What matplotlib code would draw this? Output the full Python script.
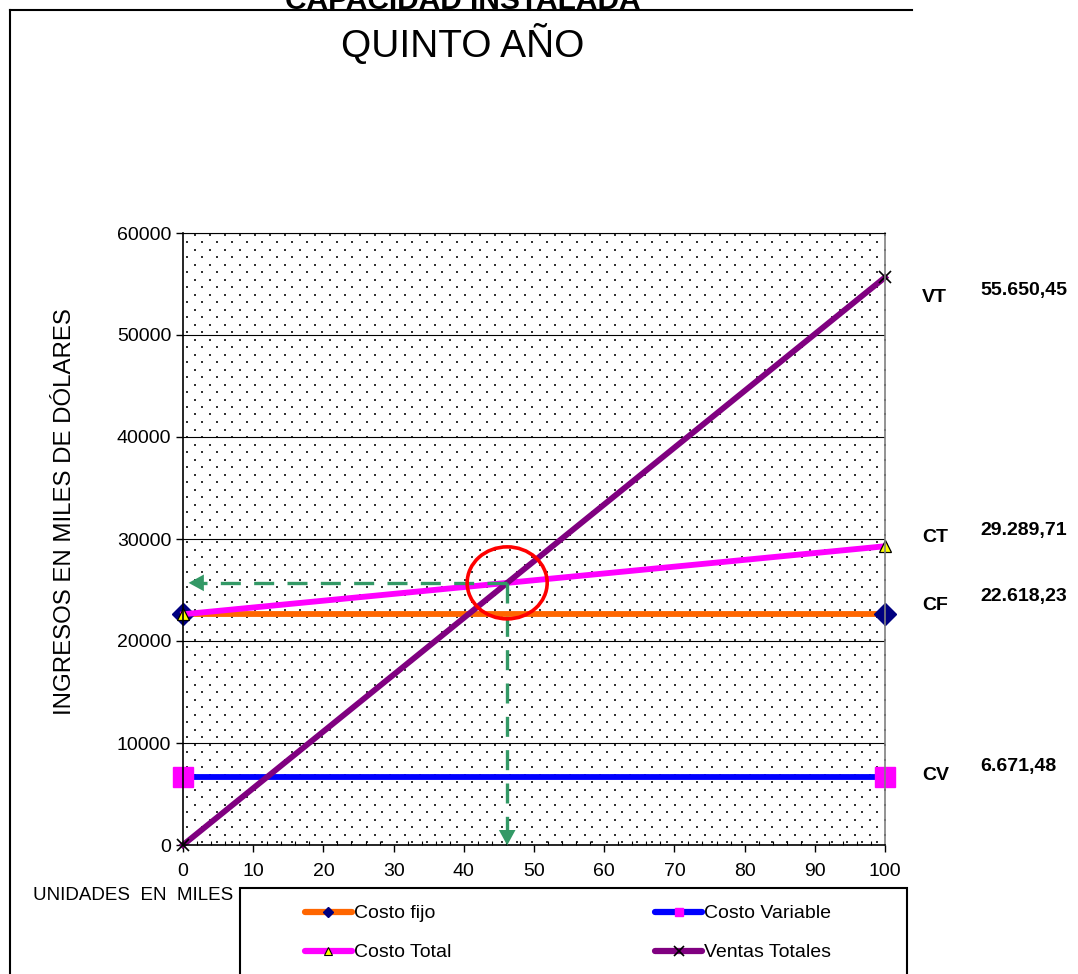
import numpy as np
import matplotlib
matplotlib.use("Agg")
import matplotlib.pyplot as plt
from matplotlib.lines import Line2D
from matplotlib.patches import Rectangle, Ellipse
from matplotlib.ticker import MultipleLocator

plt.rcParams['font.family'] = ['Liberation Sans', 'DejaVu Sans']

# Datos del punto de equilibrio (quinto año)
unidades = [0, 100]
costo_fijo = [22618.23, 22618.23]
costo_variable = [6671.48, 6671.48]
costo_total = [22618.23, 29289.71]
ventas_totales = [0.0, 55650.45]

etiquetas = ['VT', 'CT', 'CF', 'CV']
valores_finales = [ventas_totales[-1], costo_total[-1], costo_fijo[-1], costo_variable[-1]]

W, H = 1078, 974
fig = plt.figure(figsize=(W / 100, H / 100), dpi=100)
ax = fig.add_axes([183 / W, 1 - 845 / H, 702 / W, 612 / H])

# fondo punteado del área de trazado
aw, ah = 702, 612
pts = []
for i, yy in enumerate(np.arange(3, ah, 7.5)):
    xs = np.arange(4 + (7.5 if i % 2 else 0), aw, 15)
    pts.append(np.column_stack([xs / aw, np.full(len(xs), yy / ah)]))
pts = np.vstack(pts)
ax.scatter(pts[:, 0], pts[:, 1], s=2.6, marker='s', color='#333333',
           linewidths=0, transform=ax.transAxes, zorder=0.3)

# series
lw = 4.2
ax.plot(unidades, costo_fijo, color='#FF6600', lw=lw, marker='D', ms=11.5,
        mfc='#000080', mec='#000080', zorder=2, clip_on=False)
ax.plot(unidades, costo_variable, color='#0000FF', lw=lw, marker='s', ms=15,
        mfc='#FF00FF', mec='#FF00FF', zorder=2.1, clip_on=False)
ax.plot(unidades, costo_total, color='#FF00FF', lw=lw, marker='^', ms=8,
        mfc='#FFFF00', mec='black', mew=0.9, zorder=2.2, clip_on=False)
ax.plot(unidades, ventas_totales, color='#800080', lw=lw, marker='x', ms=9,
        mec='black', mew=1.2, zorder=2.3, clip_on=False)

# punto de equilibrio
pend_ct = (costo_total[1] - costo_total[0]) / (unidades[1] - unidades[0])
pend_vt = (ventas_totales[1] - ventas_totales[0]) / (unidades[1] - unidades[0])
x_eq = (costo_total[0] - ventas_totales[0]) / (pend_vt - pend_ct)
y_eq = ventas_totales[0] + pend_vt * x_eq

verde = '#339966'
ax.plot([x_eq, 1.5], [y_eq, y_eq], color=verde, lw=2.4, ls=(0, (6, 4)), zorder=2.6)
ax.plot([x_eq, x_eq], [y_eq, 1200], color=verde, lw=2.4, ls=(0, (6, 4)), zorder=2.6)
ax.annotate('', xy=(0.4, y_eq), xytext=(2.8, y_eq),
            arrowprops=dict(arrowstyle='-|>,head_length=1.1,head_width=0.6',
                            color=verde, lw=0), zorder=2.7)
ax.annotate('', xy=(x_eq, -300), xytext=(x_eq, 1500),
            arrowprops=dict(arrowstyle='-|>,head_length=1.1,head_width=0.6',
                            color=verde, lw=0), annotation_clip=False, zorder=2.7)
ax.add_patch(Ellipse((x_eq, y_eq), width=80 / aw * 100, height=72 / ah * 60000,
                     fill=False, edgecolor='#FF0000', lw=2.6, zorder=3))

# ejes
ax.set_xlim(0, 100)
ax.set_ylim(0, 60000)
ax.xaxis.set_major_locator(MultipleLocator(10))
ax.xaxis.set_minor_locator(MultipleLocator(2))
ax.yaxis.set_major_locator(MultipleLocator(10000))
ax.set_axisbelow(True)
ax.yaxis.grid(True, color='black', lw=0.8)
ax.tick_params(axis='both', which='major', direction='out', length=5, width=1,
               labelsize=14, colors='black')
ax.tick_params(axis='x', which='major', pad=8)
ax.tick_params(axis='x', which='minor', direction='in', length=3, width=0.8)
ax.tick_params(axis='y', which='minor', length=0)
for side in ('left', 'bottom'):
    ax.spines[side].set_linewidth(1.2)
ax.spines['top'].set_linewidth(0.8)
ax.spines['right'].set_color('#808080')
ax.spines['right'].set_linewidth(1.2)

# etiquetas a la derecha
def formato_es(v):
    s = f"{v:,.2f}"
    return s.replace(',', '#').replace('.', ',').replace('#', '.')

pos_etiqueta = [298, 538, 606, 776]
pos_valor = [291, 530, 597, 767]
for etq, val, ye, yv in zip(etiquetas, valores_finales, pos_etiqueta, pos_valor):
    fig.text(922 / W, 1 - ye / H, etq, fontsize=14, fontweight='bold', va='center')
    fig.text(980 / W, 1 - yv / H, formato_es(val), fontsize=14, fontweight='bold', va='center')

# títulos y rótulos
fig.text(463 / W, 1 - 9 / H, 'CAPACIDAD INSTALADA', fontweight='bold',
         fontsize=21.5, ha='center', va='baseline')
fig.text(463 / W, 1 - 44 / H, 'QUINTO AÑO', fontsize=28,
         ha='center', va='center')
fig.text(65 / W, 1 - 512 / H, 'INGRESOS EN MILES DE DÓLARES', fontsize=17.3,
         rotation=90, ha='center', va='center')
fig.text(33 / W, 1 - 895 / H, 'UNIDADES  EN  MILES', fontsize=13.5,
         ha='left', va='center')

# marco del gráfico
fig.add_artist(Line2D([10 / W, 912 / W], [1 - 10 / H, 1 - 10 / H],
                      transform=fig.transFigure, color='black', lw=1.5))
fig.add_artist(Line2D([10 / W, 10 / W], [1 - 10 / H, 0],
                      transform=fig.transFigure, color='black', lw=1.5))

# leyenda
fig.add_artist(Rectangle((240 / W, -0.05), (907 - 240) / W, (1 - 888 / H) + 0.05,
                         transform=fig.transFigure, fill=False, edgecolor='black', lw=1.5))
handles = [
    Line2D([], [], color='#FF6600', lw=4.5, marker='D', ms=5, mfc='#000080', mec='#000080',
           solid_capstyle='round'),
    Line2D([], [], color='#FF00FF', lw=4.5, marker='^', ms=6, mfc='#FFFF00', mec='black',
           mew=0.8, solid_capstyle='round'),
    Line2D([], [], color='#0000FF', lw=4.5, marker='s', ms=6, mfc='#FF00FF', mec='#FF00FF',
           solid_capstyle='round'),
    Line2D([], [], color='#800080', lw=4.5, marker='x', ms=7, mec='black', mew=1.2,
           solid_capstyle='round'),
]
labels = ['Costo fijo', 'Costo Total', 'Costo Variable', 'Ventas Totales']
fig.legend(handles, labels, loc='center', bbox_to_anchor=(568 / W, 1 - 933 / H),
           ncol=2, frameon=False, fontsize=14, handlelength=2.4, handletextpad=0.1,
           columnspacing=10.5, labelspacing=1.1)

fig.savefig('out.png', dpi=100)
